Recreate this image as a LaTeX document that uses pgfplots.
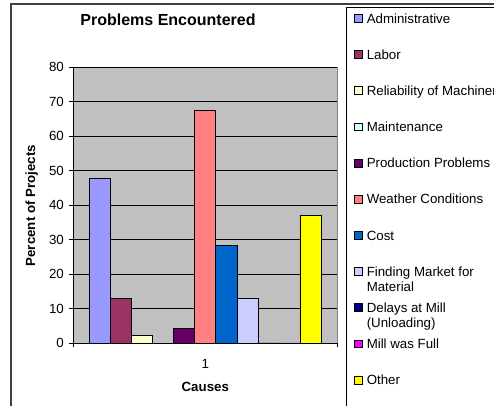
\documentclass[border=0pt]{standalone}
\usepackage{pgfplots}
\pgfplotsset{compat=1.18}
\usepackage{fontspec}
\setmainfont{Liberation Sans}

\definecolor{xlgray}{RGB}{192,192,192}
\definecolor{cAdmin}{RGB}{153,153,255}
\definecolor{cLabor}{RGB}{153,51,102}
\definecolor{cRel}{RGB}{255,255,204}
\definecolor{cMaint}{RGB}{204,255,255}
\definecolor{cProd}{RGB}{102,0,102}
\definecolor{cWeather}{RGB}{255,128,128}
\definecolor{cCost}{RGB}{0,102,204}
\definecolor{cFind}{RGB}{204,204,255}
\definecolor{cDelay}{RGB}{0,0,128}
\definecolor{cMill}{RGB}{255,0,255}
\definecolor{cOther}{RGB}{255,255,0}

\begin{document}
\begin{tikzpicture}
\useasboundingbox (0,0) rectangle (494bp,406bp);
\clip (0,0) rectangle (494bp,406bp);
\fill[white] (0,0) rectangle (494bp,406bp);
% chart frame and legend frame (cropped)
\draw[line width=1.3bp, black!75] (11bp,-10bp) -- (11bp,402bp) -- (520bp,402bp);
\draw[line width=0.8bp, black] (346.5bp,-10bp) -- (346.5bp,398.7bp) -- (520bp,398.7bp);
\begin{axis}[
  at={(73.3bp,63bp)}, anchor=south west,
  scale only axis, width=264bp, height=276bp,
  ybar=0pt, bar width=21.1bp,
  xmin=0.5, xmax=1.5, ymin=0, ymax=80,
  ytick={0,10,...,80},
  xtick={0.5,1.5}, xticklabels={},
  extra x ticks={1}, extra x tick labels={1},
  extra x tick style={major tick length=0pt, grid=none},
  axis lines*=left,
  axis line style={black, line width=0.75bp, -},
  axis background/.style={fill=xlgray, draw=black!50, line width=0.75bp},
  tick align=outside, major tick length=4.3bp,
  tick style={black, line width=0.75bp},
  ymajorgrids, grid style={black, line width=0.75bp},
  /pgf/number format/assume math mode=true,
  tick label style={font=\fontsize{13.3bp}{15bp}\selectfont},
  yticklabel style={inner sep=0pt, xshift=-5bp},
  xticklabel style={inner sep=0pt, yshift=-16bp},
  title={Problems Encountered},
  title style={font=\fontsize{16bp}{18bp}\selectfont\bfseries, at={(axis description cs:0.3587,1.1496)}, anchor=center},
  xlabel={Causes},
  xlabel style={font=\fontsize{13.3bp}{15bp}\selectfont\bfseries, at={(axis description cs:0.5,-0.1583)}, anchor=center},
  ylabel={Percent of Projects},
  ylabel style={font=\fontsize{13.3bp}{15bp}\selectfont\bfseries, at={(axis description cs:-0.1576,0.4975)}, anchor=center, rotate=0},
  every axis plot/.append style={draw=black, line width=0.75bp},
  legend image code/.code={\draw[#1, draw=black, line width=0.75bp] (0bp,0.9bp) rectangle (7.7bp,8.6bp);},
  legend style={at={(axis description cs:1.0644,1.1935)}, anchor=north west,
    draw=none, fill=none, inner sep=0pt, outer sep=0pt,
    row sep=23.67bp, column sep=4bp,
    font=\fontsize{13.3bp}{15.3bp}\selectfont,
    cells={anchor=base west},
    nodes={inner sep=0pt, text height=9.5bp, text depth=3bp}},
]
\addplot[fill=cAdmin] coordinates {(1,47.7)};
\addlegendentry{Administrative}
\addplot[fill=cLabor] coordinates {(1,12.9)};
\addlegendentry{Labor}
\addplot[fill=cRel] coordinates {(1,2.1)};
\addlegendentry{Reliability of Machinery}
\addplot[fill=cMaint] coordinates {(1,0)};
\addlegendentry{Maintenance}
\addplot[fill=cProd] coordinates {(1,4.3)};
\addlegendentry{Production Problems}
\addplot[fill=cWeather] coordinates {(1,67.3)};
\addlegendentry{Weather Conditions}
\addplot[fill=cCost] coordinates {(1,28.3)};
\addlegendentry{Cost}
\addplot[fill=cFind] coordinates {(1,12.9)};
\addlegendentry{\parbox[t]{4cm}{Finding Market for\\Material}}
\addplot[fill=cDelay] coordinates {(1,0)};
\addlegendentry{\parbox[t]{4cm}{Delays at Mill\\(Unloading)}}
\addplot[fill=cMill] coordinates {(1,0)};
\addlegendentry{Mill was Full}
\addplot[fill=cOther] coordinates {(1,36.9)};
\addlegendentry{Other}
\end{axis}
\end{tikzpicture}
\end{document}
